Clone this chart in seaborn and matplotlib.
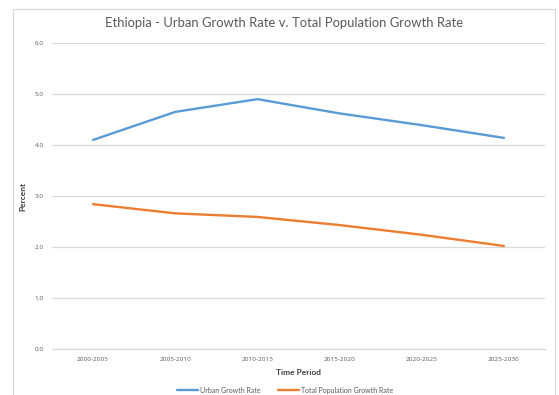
import matplotlib
matplotlib.use("Agg")
import matplotlib.pyplot as plt
import seaborn as sns
import pandas as pd
from matplotlib.patches import Rectangle

periods = ["2000-2005", "2005-2010", "2010-2015", "2015-2020", "2020-2025", "2025-2030"]
urban_growth = [4.10, 4.65, 4.90, 4.62, 4.39, 4.14]
total_growth = [2.84, 2.66, 2.59, 2.43, 2.24, 2.02]
series_names = ["Urban Growth Rate", "Total Population Growth Rate"]
y_ticks = [0.0, 1.0, 2.0, 3.0, 4.0, 5.0, 6.0]

df = pd.DataFrame({
    "Time Period": periods * 2,
    "Percent": urban_growth + total_growth,
    "Series": [series_names[0]] * len(periods) + [series_names[1]] * len(periods),
})

sns.set_theme(style="white")
plt.rcParams["font.family"] = ["Lato", "DejaVu Sans"]

fig = plt.figure(figsize=(5.59, 3.95), dpi=100)
ax = fig.add_axes([0.093, 0.1165, 0.882, 0.7745])

palette = {series_names[0]: "#5B9BD5", series_names[1]: "#ED7D31"}
sns.lineplot(data=df, x="Time Period", y="Percent", hue="Series", palette=palette,
             linewidth=1.7, ax=ax, sort=False, legend=False)

ax.set_xlim(-0.5, len(periods) - 0.5)
ax.set_ylim(0, 6.0)
ax.set_yticks(y_ticks)
ax.set_yticklabels([f"{v:.1f}" for v in y_ticks])
ax.set_xticks(range(len(periods)))
ax.set_xticklabels(periods)
ax.tick_params(axis="both", labelsize=5, colors="#595959", length=0, pad=6)
for lbl in ax.get_yticklabels() + ax.get_xticklabels():
    lbl.set_family(["Open Sans", "DejaVu Sans"])
    lbl.set_fontsize(4.6)
ax.yaxis.grid(True, color="#D9D9D9", linewidth=0.9)
ax.xaxis.grid(False)
for s in ["top", "right", "left"]:
    ax.spines[s].set_visible(False)
ax.spines["bottom"].set_color("#D9D9D9")
ax.spines["bottom"].set_linewidth(0.9)

ax.set_xlabel("Time Period", fontsize=6, fontweight="bold", color="#404040", labelpad=5)
ax.set_ylabel("Percent", fontsize=6, fontweight="bold", color="#404040", labelpad=6)

fig.text(0.508, 0.942, "Ethiopia - Urban Growth Rate v. Total Population Growth Rate",
         ha="center", va="center", fontsize=9.4, color="#595959")

handles = [plt.Line2D([], [], color=palette[n], linewidth=1.7) for n in series_names]
fig.legend(handles, series_names, loc="center", bbox_to_anchor=(0.51, 0.012), ncol=2,
           frameon=False, fontsize=5, handlelength=3, columnspacing=2.5, handletextpad=0.3,
           labelcolor="#595959")

fig.patches.append(Rectangle((13 / 559, -0.05), (555 - 13) / 559, 1.05 - 9 / 395,
                             transform=fig.transFigure, fill=False,
                             edgecolor="#D9D9D9", linewidth=0.9))

fig.savefig("out.png", dpi=100)
